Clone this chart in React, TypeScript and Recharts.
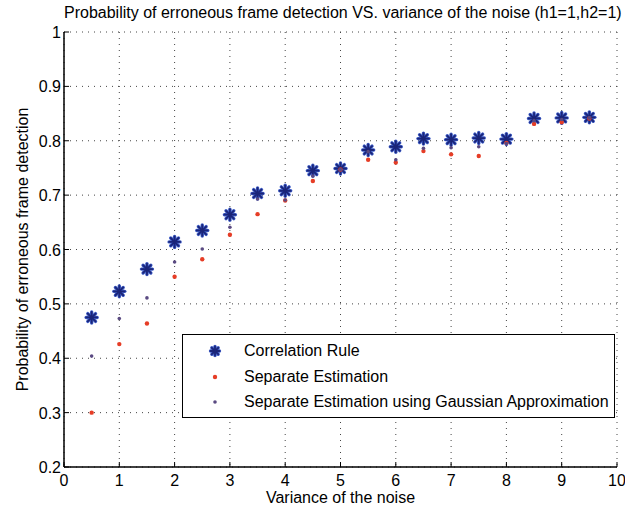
import React from 'react';
import { ScatterChart, Scatter, XAxis, YAxis, CartesianGrid, Label } from 'recharts';

const xValues = [0.5, 1, 1.5, 2, 2.5, 3, 3.5, 4, 4.5, 5, 5.5, 6, 6.5, 7, 7.5, 8, 8.5, 9, 9.5];
const correlationRule = [0.475, 0.523, 0.564, 0.614, 0.635, 0.664, 0.703, 0.708, 0.745, 0.749, 0.783, 0.789, 0.804, 0.802, 0.805, 0.803, 0.841, 0.842, 0.843];
const separateEstimation = [0.3, 0.426, 0.464, 0.55, 0.582, 0.627, 0.665, 0.69, 0.726, 0.747, 0.765, 0.76, 0.781, 0.775, 0.772, 0.796, 0.831, 0.834, 0.841];
const gaussianApprox = [0.404, 0.473, 0.511, 0.577, 0.601, 0.641, 0.693, 0.691, 0.735, 0.747, 0.78, 0.765, 0.786, 0.787, 0.789, 0.795, 0.837, 0.839, 0.842];
const xTicks = [0, 1, 2, 3, 4, 5, 6, 7, 8, 9, 10];
const yTicks = [0.2, 0.3, 0.4, 0.5, 0.6, 0.7, 0.8, 0.9, 1];
const seriesNames = ['Correlation Rule', 'Separate Estimation', 'Separate Estimation using Gaussian Approximation'];
const titleText = 'Probability of erroneous frame detection VS. variance of the noise (h1=1,h2=1)';
const xLabelText = 'Variance of the noise';
const yLabelText = 'Probability of erroneous frame detection';

const FONT = '"Liberation Sans", Arial, Helvetica, sans-serif';
const STAR_DARK = '#1b2579';
const STAR_LIGHT = '#3d5cc6';
const RED = '#e63d26';
const PURPLE = '#5a4a82';

const toPoints = (ys: number[]) => xValues.map((x, i) => ({ x, y: ys[i] }));

const Star = ({ cx, cy, r = 5.5 }: { cx: number; cy: number; r?: number }) => {
  const d = r * 0.7071;
  const lines = [
    [cx - r, cy, cx + r, cy],
    [cx, cy - r, cx, cy + r],
    [cx - d, cy - d, cx + d, cy + d],
    [cx - d, cy + d, cx + d, cy - d],
  ];
  return (
    <g>
      {lines.map((l, i) => (
        <line key={'a' + i} x1={l[0]} y1={l[1]} x2={l[2]} y2={l[3]} stroke={STAR_LIGHT} strokeWidth={3.4} strokeLinecap="round" />
      ))}
      {lines.map((l, i) => (
        <line key={'b' + i} x1={l[0]} y1={l[1]} x2={l[2]} y2={l[3]} stroke={STAR_DARK} strokeWidth={1.8} strokeLinecap="round" />
      ))}
    </g>
  );
};

const starShape = (p: any) => <Star cx={p.cx} cy={p.cy} />;
const redShape = (p: any) => <circle cx={p.cx} cy={p.cy} r={2.2} fill={RED} />;
const purpleShape = (p: any) => <circle cx={p.cx} cy={p.cy} r={1.8} fill={PURPLE} />;

const XTick = (props: any) => {
  const { x, y, payload } = props;
  return (
    <g>
      <line x1={x} x2={x} y1={y} y2={y - 5} stroke="#000" strokeWidth={1} />
      <text x={x} y={y + 19} textAnchor="middle" fontSize={16} fill="#000" fontFamily={FONT}>
        {payload.value}
      </text>
    </g>
  );
};

const YTick = (props: any) => {
  const { x, y, payload } = props;
  return (
    <g>
      <line x1={x} x2={x + 5} y1={y} y2={y} stroke="#000" strokeWidth={1} />
      <text x={x - 3} y={y + 6} textAnchor="end" fontSize={16} fill="#000" fontFamily={FONT}>
        {payload.value}
      </text>
    </g>
  );
};

const XLabel = (props: any) => {
  const vb = props.viewBox;
  return (
    <text x={vb.x + vb.width / 2} y={vb.y + 36} textAnchor="middle" fontSize={16} fill="#000" fontFamily={FONT}>
      {xLabelText}
    </text>
  );
};

const YLabel = (props: any) => {
  const vb = props.viewBox;
  const cx = vb.x + 28;
  const cy = vb.y + vb.height / 2;
  return (
    <text x={cx} y={cy} transform={`rotate(-90 ${cx} ${cy})`} textAnchor="middle" fontSize={16} fill="#000" fontFamily={FONT}>
      {yLabelText}
    </text>
  );
};

const LegendBox = () => {
  const rows = [
    { name: seriesNames[0], marker: <Star cx={10} cy={10} r={4.5} /> },
    { name: seriesNames[1], marker: <circle cx={10} cy={10} r={2.2} fill={RED} /> },
    { name: seriesNames[2], marker: <circle cx={10} cy={10} r={1.8} fill={PURPLE} /> },
  ];
  const tops = [17, 43, 68];
  return (
    <div
      style={{
        position: 'absolute',
        left: 182,
        top: 334,
        width: 433,
        height: 84,
        boxSizing: 'border-box',
        border: '1.5px solid #000',
        background: '#fff',
        fontFamily: FONT,
        fontSize: 16,
        color: '#000',
      }}
    >
      {rows.map((r, i) => (
        <div key={i}>
          <svg width={20} height={20} style={{ position: 'absolute', left: 22, top: tops[i] - 11 }}>
            {r.marker}
          </svg>
          <div style={{ position: 'absolute', left: 61, top: tops[i] - 10, lineHeight: '18px', whiteSpace: 'nowrap' }}>{r.name}</div>
        </div>
      ))}
    </div>
  );
};

export default function App() {
  return (
    <div style={{ position: 'absolute', left: 0, top: 0, width: 625, height: 510, background: '#fff' }}>
      <ScatterChart width={625} height={510} margin={{ top: 32, right: 8, bottom: 0, left: 0 }}>
        <CartesianGrid xAxisId="b" yAxisId="l" stroke="#444" strokeDasharray="1 5" strokeWidth={1} />
        <XAxis
          xAxisId="b"
          dataKey="x"
          type="number"
          domain={[0, 10]}
          ticks={xTicks}
          height={43}
          orientation="bottom"
          tickSize={0}
          tickMargin={0}
          tickLine={false}
          tick={<XTick />}
          axisLine={{ stroke: '#000', strokeWidth: 1.5 }}
          allowDataOverflow
        >
          <Label content={<XLabel />} />
        </XAxis>
        <XAxis
          xAxisId="t"
          type="number"
          domain={[0, 10]}
          ticks={xTicks}
          height={0}
          orientation="top"
          mirror
          tick={false}
          tickSize={5}
          tickLine={{ stroke: '#000' }}
          axisLine={{ stroke: '#000', strokeWidth: 1.5 }}
        />
        <YAxis
          yAxisId="l"
          dataKey="y"
          type="number"
          domain={[0.2, 1]}
          ticks={yTicks}
          width={64}
          orientation="left"
          tickSize={0}
          tickMargin={0}
          tickLine={false}
          tick={<YTick />}
          axisLine={{ stroke: '#000', strokeWidth: 1.5 }}
          allowDataOverflow
        >
          <Label content={<YLabel />} />
        </YAxis>
        <YAxis
          yAxisId="r"
          type="number"
          domain={[0.2, 1]}
          ticks={yTicks}
          width={0}
          orientation="right"
          mirror
          tick={false}
          tickSize={5}
          tickLine={{ stroke: '#000' }}
          axisLine={{ stroke: '#000', strokeWidth: 1.5 }}
        />
        <Scatter xAxisId="b" yAxisId="l" name={seriesNames[0]} data={toPoints(correlationRule)} shape={starShape} isAnimationActive={false} />
        <Scatter xAxisId="b" yAxisId="l" name={seriesNames[1]} data={toPoints(separateEstimation)} shape={redShape} isAnimationActive={false} />
        <Scatter xAxisId="b" yAxisId="l" name={seriesNames[2]} data={toPoints(gaussianApprox)} shape={purpleShape} isAnimationActive={false} />
      </ScatterChart>
      <div
        style={{
          position: 'absolute',
          left: 64,
          width: 553,
          top: 4,
          textAlign: 'center',
          fontFamily: FONT,
          fontSize: 16,
          color: '#000',
          whiteSpace: 'nowrap',
          lineHeight: '18px',
        }}
      >
        {titleText}
      </div>
      <LegendBox />
    </div>
  );
}
